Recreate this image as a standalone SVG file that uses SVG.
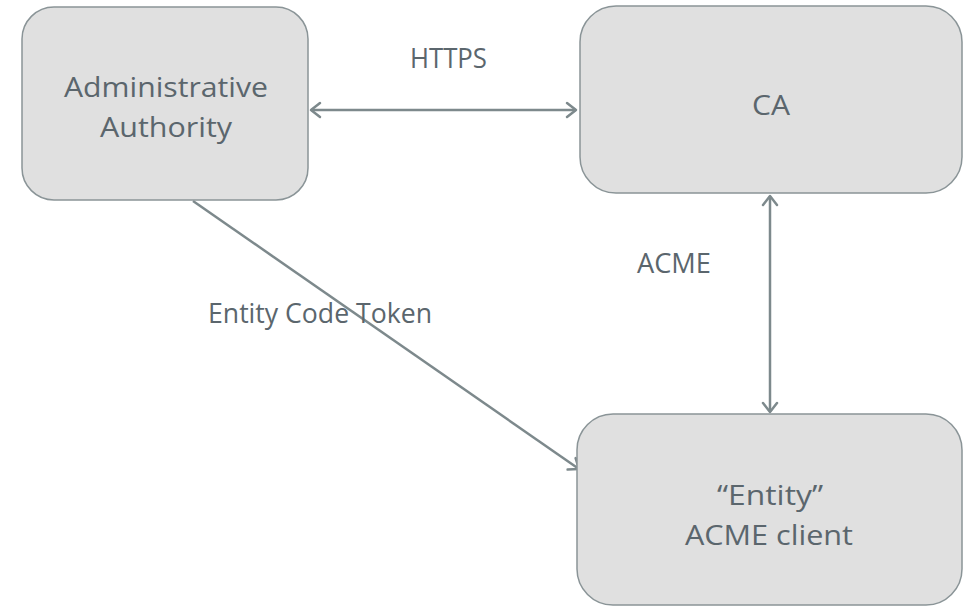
<svg xmlns="http://www.w3.org/2000/svg" width="971" height="607" viewBox="0 0 971 607">
<defs>
<marker id="ah" viewBox="-12 -9 14 18" refX="0" refY="0" markerWidth="14" markerHeight="18" markerUnits="userSpaceOnUse" orient="auto-start-reverse">
<path d="M -9 -7 L 0 0 L -9 7" fill="none" stroke="#7d898c" stroke-width="2.5" stroke-linecap="round" stroke-linejoin="round"/>
</marker>
<style>
.box{fill:#e0e0e0;stroke:#8a9497;stroke-width:1.5}
.t{font-family:"Open Sans","Liberation Sans",sans-serif;fill:#5b666d;text-anchor:middle}
.big{font-size:27px}
.edge{fill:none;stroke:#7d898c;stroke-width:2.5}
</style>
</defs>
<rect width="971" height="607" fill="#ffffff"/>
<g id="connectors">
<line class="edge" x1="311" y1="110" x2="576" y2="110" marker-start="url(#ah)" marker-end="url(#ah)"/>
<line class="edge" x1="770" y1="196" x2="770" y2="412" marker-start="url(#ah)" marker-end="url(#ah)"/>
<line class="edge" x1="193" y1="201" x2="579" y2="469" stroke-width="2" marker-end="url(#ah)"/>
<text class="t big" x="448.5" y="68" textLength="77" lengthAdjust="spacingAndGlyphs">HTTPS</text>
<text class="t big" x="674" y="273" textLength="74" lengthAdjust="spacingAndGlyphs">ACME</text>
<text class="t big" x="320" y="323" textLength="224" lengthAdjust="spacingAndGlyphs">Entity Code Token</text>
</g>
<g id="node-admin">
<rect class="box" x="22" y="7" width="286" height="193" rx="32"/>
<text class="t big" x="166" y="97" textLength="204" lengthAdjust="spacingAndGlyphs">Administrative</text>
<text class="t big" x="166" y="137" textLength="132" lengthAdjust="spacingAndGlyphs">Authority</text>
</g>
<g id="node-ca">
<rect class="box" x="580" y="6" width="382" height="187" rx="36"/>
<text class="t big" x="771" y="115" textLength="38" lengthAdjust="spacingAndGlyphs">CA</text>
</g>
<g id="node-entity">
<rect class="box" x="577" y="414" width="385" height="191" rx="36"/>
<text class="t big" x="770" y="505" textLength="106" lengthAdjust="spacingAndGlyphs">“Entity”</text>
<text class="t big" x="769" y="545" textLength="168" lengthAdjust="spacingAndGlyphs">ACME client</text>
</g>
</svg>
